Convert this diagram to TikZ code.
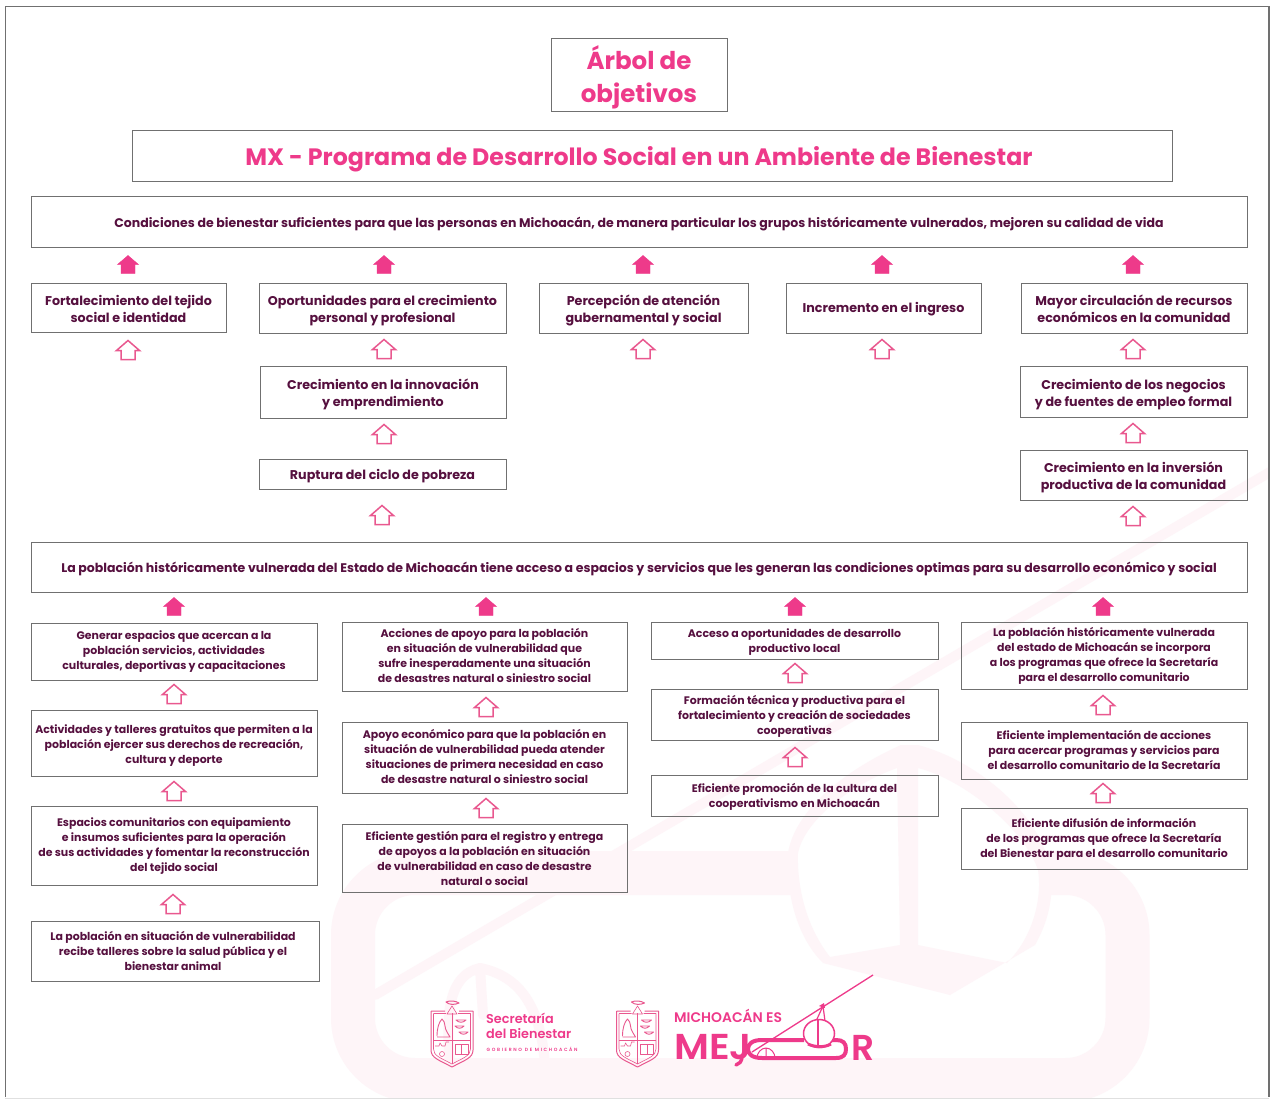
\documentclass[tikz,border=0pt]{standalone}
\usepackage{fontspec}
\setmainfont{Poppins}
\newfontfamily\semi{Poppins SemiBold}
\definecolor{rosa}{HTML}{EE3A8A}
\definecolor{rosab}{HTML}{E9588F}
\definecolor{vino}{HTML}{56103F}
\definecolor{borde}{HTML}{707070}
\definecolor{marca}{HTML}{FEF5F8}
\tikzset{
  bajar/.store in=\bajada,bajar=0,
  correr/.store in=\corrida,correr=0,
  caja/.style={draw=borde,line width=0.9pt,inner sep=0pt,text=vino},
  grande/.style={font=\fontsize{12.7}{17}\selectfont\bfseries},
  media/.style={font=\fontsize{12.52}{15}\selectfont\bfseries},
  chica/.style={font=\fontsize{10.95}{15}\selectfont\bfseries},
  titulo/.style={text=rosa,font=\fontsize{24.5}{33}\selectfont\bfseries},
  subtitulo/.style={text=rosa,font=\fontsize{23.7}{33}\selectfont\bfseries},
  flechallena/.style={fill=rosa,draw=rosa,line width=0.4pt,line join=miter},
  flechahueca/.style={draw=rosab,line width=1.5pt,line join=miter},
  trazomarca/.style={draw=marca,line cap=round,line join=round},
  trazo/.style={draw=rosab,line width=0.6pt,line join=round},
  trazog/.style={draw=rosa,line join=round},
  logotexto/.style={inner sep=0pt,anchor=west,text=rosa},
}
\newcommand{\bx}[7]{\pgfmathsetmacro{\bxw}{#4-#2}\pgfmathsetmacro{\bxh}{#5-#3}\pgfmathsetmacro{\bxa}{(#4+#2)/2}\pgfmathsetmacro{\bxb}{(#5+#3)/2}\node[caja,#6,minimum width=\bxw pt,minimum height=\bxh pt] (#1) at (\bxa,\bxb) {\kern\corrida pt\raisebox{-\bajada pt}[\height][\depth]{\begin{tabular}[c]{@{}c@{}}#7\end{tabular}}};}
\newcommand{\fl}[3]{\coordinate (#1) at (#2,#3);\draw[flechallena] (#1) ++(0,-9.5) -- ++(10.5,9) -- ++(-3.5,0) -- ++(0,9) -- ++(-14,0) -- ++(0,-9) -- ++(-3.5,0) -- cycle;}
\newcommand{\fh}[3]{\coordinate (#1) at (#2,#3);\draw[flechahueca] (#1) ++(0,-9.5) -- ++(11.5,10) -- ++(-4.5,0) -- ++(0,9) -- ++(-14,0) -- ++(0,-9) -- ++(-4.5,0) -- cycle;}
\newcommand{\escudo}[1]{\begin{scope}[shift={(#1,0)}]
  \draw[trazo,line width=1pt] (431,1011) -- (445,1011) (459,1011) -- (473,1011) -- (473,1050) .. controls (473,1058) and (465,1060) .. (452,1067) .. controls (439,1060) and (431,1058) .. (431,1050) -- (431,1011);
  \draw[trazo] (433.5,1013.5) -- (446,1013.5) (458,1013.5) -- (470.5,1013.5) -- (470.5,1049) .. controls (470.5,1056) and (463,1058) .. (452,1064) .. controls (441,1058) and (433.5,1056) .. (433.5,1049) -- (433.5,1013.5);
  \draw[trazo] (452,1013) -- (452,1064) (433.5,1040) -- (470.5,1040);
  \draw[trazo] (452,1006) -- (447,1014) -- (457,1014) -- cycle;
  \draw[trazo,line width=1pt] (446,1002) .. controls (450,1000) and (456,1001) .. (459,1003) .. controls (455,1005) and (449,1005) .. (446,1002) -- cycle;
  \draw[trazo,line width=0.9pt] (437,1036) .. controls (437,1028) and (439,1022) .. (442,1019) .. controls (446,1022) and (444,1028) .. (447,1032) -- (450,1037) -- (437,1037);
  \draw[trazo,line width=0.9pt] (456,1020) .. controls (459,1023) and (463,1023) .. (466,1020) -- cycle (455,1026) .. controls (458,1029) and (461,1029) .. (464,1026) -- cycle (459,1032) .. controls (462,1035) and (465,1035) .. (468,1032) -- cycle;
  \draw[trazo] (435,1046) -- (439,1046) -- (440,1043) -- (442,1046) -- (445,1046) -- (446,1042) -- (449,1042) (442,1054) circle (2.5pt);
  \draw[trazo,line width=0.9pt] (455,1044) rectangle (468,1054) (461.5,1044) -- (461.5,1054);
\end{scope}}
\begin{document}
\begin{tikzpicture}[x=1pt,y=-1pt]
\useasboundingbox (0,0) rectangle (1270,1100);
\fill[white] (0,0) rectangle (1270,1100);
\begin{scope}
\clip (6,7) rectangle (1268,1097);
% marca de agua
\draw[trazomarca,line cap=butt,line width=44pt,rounded corners=62pt] (793,873) -- (353,873) -- (353,1080) -- (1127.5,1080) -- (1127.5,873) -- (1040,873);
\draw[trazomarca,line width=10pt] (375,995) -- (1270,472);
\fill[marca,even odd rule] (901,745) .. controls (845,770) and (795,810) .. (788,853) .. controls (786,890) and (795,935) .. (823,963) -- (950,995) -- (1035,945) .. controls (1052,915) and (1055,885) .. (1048,860) .. controls (1035,810) and (975,760) .. (918,745) -- cycle
 (897,768) .. controls (850,785) and (805,820) .. (798,853) .. controls (797,885) and (805,925) .. (830,957) -- (900,945) -- cycle
 (918,768) .. controls (965,780) and (1025,830) .. (1038,870) .. controls (1042,895) and (1035,935) .. (1007,963) -- (918,945) -- cycle;
\draw[trazomarca,line width=10pt] (450,1064) .. controls (445,1010) and (450,975) .. (480,968) .. controls (515,975) and (540,1000) .. (545,1064) (480,968) -- (483,1015);
\end{scope}
\draw[borde,line width=1.2pt] (5.5,1097) -- (5.5,6.5) -- (1269,6.5) -- (1269,1097);
\draw[black!12,line width=1.5pt] (5,1098.5) -- (1269,1098.5);

\bx{t1}{551}{38}{727}{111}{titulo,bajar=4}{Árbol de\\objetivos}
\bx{t2}{132}{130}{1172}{181}{subtitulo,bajar=3,correr=-26}{MX - Programa de Desarrollo Social en un Ambiente de Bienestar}
\bx{fin}{31}{196}{1247}{247}{media,bajar=3}{Condiciones de bienestar suficientes para que las personas en Michoacán, de manera particular los grupos históricamente vulnerados, mejoren su calidad de vida}
\bx{a1}{31}{283}{226}{332}{grande,bajar=3}{Fortalecimiento del tejido\\social e identidad}
\bx{a2}{259}{283}{506}{333}{grande,bajar=3}{Oportunidades para el crecimiento\\personal y profesional}
\bx{a3}{539}{283}{748}{333}{grande,bajar=3}{Percepción de atención\\gubernamental y social}
\bx{a4}{786}{283}{981}{333}{grande,bajar=1}{Incremento en el ingreso}
\bx{a5}{1021}{283}{1247}{333}{grande,bajar=3}{Mayor circulación de recursos\\económicos en la comunidad}
\bx{b2}{260}{366}{506}{418}{grande,bajar=3}{Crecimiento en la innovación\\y emprendimiento}
\bx{c2}{259}{459}{506}{489}{grande,bajar=2}{Ruptura del ciclo de pobreza}
\bx{b5}{1020}{366}{1247}{417}{grande,bajar=3}{Crecimiento de los negocios\\y de fuentes de empleo formal}
\bx{c5}{1020}{450}{1247}{500}{grande,bajar=3}{Crecimiento en la inversión\\productiva de la comunidad}
\bx{pro}{31}{542}{1247}{592}{media,bajar=2}{La población históricamente vulnerada del Estado de Michoacán tiene acceso a espacios y servicios que les generan las condiciones optimas para su desarrollo económico y social}
\bx{d1}{31}{623}{317}{680}{chica}{Generar espacios que acercan a la\\población servicios, actividades\\culturales, deportivas y capacitaciones}
\bx{d2}{31}{710}{317}{776}{chica,bajar=2}{Actividades y talleres gratuitos que permiten a la\\población ejercer sus derechos de recreación,\\cultura y deporte}
\bx{d3}{31}{806}{317}{885}{chica}{Espacios comunitarios con equipamiento\\e insumos suficientes para la operación\\de sus actividades y fomentar la reconstrucción\\del tejido social}
\bx{d4}{31}{921}{319}{981}{chica,bajar=1,correr=-4}{La población en situación de vulnerabilidad\\recibe talleres sobre la salud pública y el\\bienestar animal}
\bx{e1}{342}{622}{627}{691}{chica}{Acciones de apoyo para la población\\en situación de vulnerabilidad que\\sufre inesperadamente una situación\\de desastres natural o siniestro social}
\bx{e2}{342}{722}{627}{793}{chica}{Apoyo económico para que la población en\\situación de vulnerabilidad pueda atender\\situaciones de primera necesidad en caso\\de desastre natural o siniestro social}
\bx{e3}{342}{824}{627}{892}{chica,bajar=2}{Eficiente gestión para el registro y entrega\\de apoyos a la población en situación\\de vulnerabilidad en caso de desastre\\natural o social}
\bx{f1}{651}{622}{938}{659}{chica,bajar=1}{Acceso a oportunidades de desarrollo\\productivo local}
\bx{f2}{651}{689}{938}{740}{chica,bajar=2}{Formación técnica y productiva para el\\fortalecimiento y creación de sociedades\\cooperativas}
\bx{f3}{651}{775}{938}{816}{chica,bajar=1}{Eficiente promoción de la cultura del\\cooperativismo en Michoacán}
\bx{g1}{961}{622}{1247}{689}{chica}{La población históricamente vulnerada\\del estado de Michoacán se incorpora\\a los programas que ofrece la Secretaría\\para el desarrollo comunitario}
\bx{g2}{961}{722}{1247}{779}{chica,bajar=1}{Eficiente implementación de acciones\\para acercar programas y servicios para\\el desarrollo comunitario de la Secretaría}
\bx{g3}{961}{808}{1247}{869}{chica,bajar=1}{Eficiente difusión de información\\de los programas que ofrece la Secretaría\\del Bienestar para el desarrollo comunitario}

\fl{s1}{128}{265}\fl{s2}{384}{265}\fl{s3}{643}{265}\fl{s4}{882}{265}\fl{s5}{1133}{265}
\fl{s6}{174}{607}\fl{s7}{486}{607}\fl{s8}{795}{607}\fl{s9}{1103}{607}
\fh{h1}{128}{350}\fh{h2}{384}{349}\fh{h3}{643}{349}\fh{h4}{882}{349}\fh{h5}{1133}{349}
\fh{h6}{384}{434}\fh{h7}{1133}{433}\fh{h8}{382}{515}\fh{h9}{1133}{516}
\fh{h10}{174}{694}\fh{h11}{174}{791}\fh{h12}{173}{904}
\fh{h13}{486}{707}\fh{h14}{486}{808}
\fh{h15}{795}{673}\fh{h16}{795}{757}
\fh{h17}{1103}{705}\fh{h18}{1103}{793}

% logos
\escudo{0}\escudo{185.5}
\node[logotexto,font=\fontsize{12.8}{15}\semi,align=left] (l1) at (486,1025.5) {Secretaría\\del Bienestar};
\node[logotexto,font=\fontsize{4.6}{5}\semi\addfontfeature{LetterSpace=36}] (l2) at (486.5,1049.5) {GOBIERNO DE MICHOACÁN};
\node[logotexto,font=\fontsize{13.9}{15}\semi] (l3) at (674,1016) {MICHOACÁN ES};
\node[logotexto,font=\fontsize{36}{40}\semi] (l4) at (674,1047.5) {\scalebox{1.08}[1]{MEJ}};
\draw[trazog,line width=3.5pt,line cap=round] (742,1056) .. controls (742,1062) and (739,1064) .. (736,1065);
\node[logotexto,font=\fontsize{36}{40}\semi] (l5) at (851,1047.5) {R};
\draw[trazog,line width=4pt] (770,1058) -- (836,1058) .. controls (844,1058) and (846,1054) .. (846,1049) .. controls (846,1043) and (843,1040) .. (836,1040) -- (830,1040) (804,1040) -- (762,1040) .. controls (752,1040) and (748,1044) .. (748,1049) .. controls (748,1054) and (752,1058) .. (762,1058) -- (770,1058);
\draw[trazog,line width=1.3pt] (752,1052) -- (873,975);
\draw[trazog,line width=1.2pt] (823,1006) -- (817,1019) (823,1006) -- (825,1021);
\fill[rosa] (819,1006) -- (824,1003) -- (825,1008) -- cycle;
\draw[trazog,line width=1.5pt,fill=white] (819,1033.5) ellipse (15.5pt and 14pt);
\draw[trazog,line width=3pt] (808,1044) .. controls (814,1047) and (824,1048) .. (831,1044);
\draw[trazog,line width=1.2pt] (818,1019) -- (818,1045);
\draw[trazog,line width=1pt] (757,1058) .. controls (757,1053) and (761,1048) .. (766,1048) .. controls (771,1048) and (775,1053) .. (775,1058) (766,1048) -- (766,1058);
\end{tikzpicture}
\end{document}
